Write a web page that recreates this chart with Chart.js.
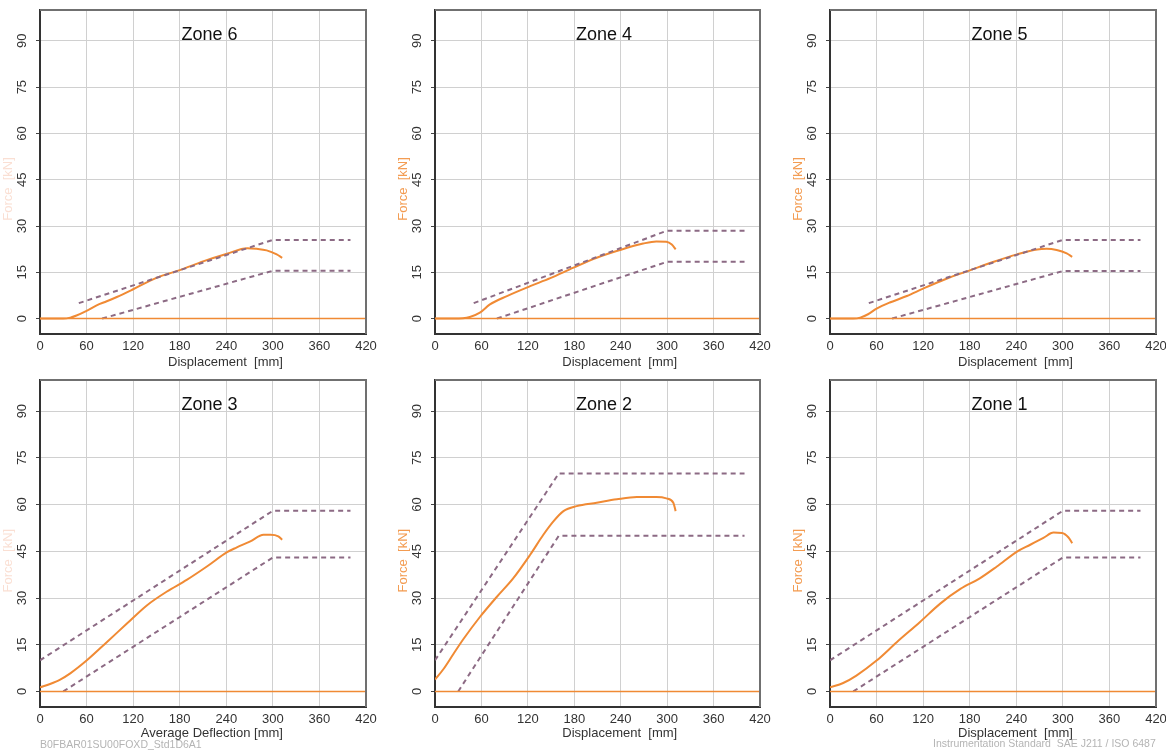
<!DOCTYPE html>
<html>
<head>
<meta charset="utf-8">
<script src="https://cdn.jsdelivr.net/npm/chart.js@4.4.0/dist/chart.umd.min.js"></script>
<style>
  html, body { margin: 0; padding: 0; background: #fff; overflow: hidden; }
  body { width: 1166px; height: 751px; position: relative; font-family: "Liberation Sans", Arial, sans-serif; }
  .panel { position: absolute; width: 390px; height: 376px; }
  .note { position: absolute; font-size: 10.5px; color: #b4b4b4; white-space: pre; line-height: 12px; }
</style>
</head>
<body>
<div class="panel" style="left:0;top:0"><canvas id="zone6" width="390" height="376"></canvas></div>
<div class="panel" style="left:390px;top:0"><canvas id="zone4" width="390" height="376"></canvas></div>
<div class="panel" style="left:780px;top:0"><canvas id="zone5" width="390" height="376"></canvas></div>
<div class="panel" style="left:0;top:375px"><canvas id="zone3" width="390" height="376"></canvas></div>
<div class="panel" style="left:390px;top:375px"><canvas id="zone2" width="390" height="376"></canvas></div>
<div class="panel" style="left:780px;top:375px"><canvas id="zone1" width="390" height="376"></canvas></div>
<div class="note" style="left:40px;top:738px">B0FBAR01SU00FOXD_Std1D6A1</div>
<div class="note" style="left:933px;top:737px">Instrumentation Standard  SAE J211 / ISO 6487</div>

<script>
// axis ticks
const xTicks = [0, 60, 120, 180, 240, 300, 360, 420];
const yTicks = [0, 15, 30, 45, 60, 75, 90];

// zero line
const zeroLineX = [0, 420];
const zeroLineY = [0, 0];

// Zone 6
const zone6CurveX = [0, 30, 39, 47, 60, 73, 86, 99, 120, 150, 180, 211, 241, 267, 279, 292, 305, 312];
const zone6CurveY = [0, 0, 0.3, 1.0, 2.5, 4.3, 5.6, 7.0, 9.5, 13.2, 15.7, 18.6, 21.0, 22.8, 22.6, 22.1, 20.8, 19.7];
const zone6UpperX = [50, 300, 400];
const zone6UpperY = [5, 25.5, 25.5];
const zone6LowerX = [80, 300, 400];
const zone6LowerY = [0, 15.5, 15.5];

// Zone 4
const zone4CurveX = [0, 25, 45, 58, 71, 93, 123, 149, 179, 209, 239, 269, 286, 299, 306, 311];
const zone4CurveY = [0, 0, 0.5, 1.9, 4.6, 7.3, 10.5, 13.1, 16.5, 19.7, 22.2, 24.3, 25.0, 24.9, 24.0, 22.4];
const zone4UpperX = [50, 300, 400];
const zone4UpperY = [5, 28.5, 28.5];
const zone4LowerX = [80, 300, 400];
const zone4LowerY = [0, 18.4, 18.4];

// Zone 5
const zone5CurveX = [0, 30, 39, 49, 60, 77, 99, 120, 150, 181, 211, 241, 267, 279, 292, 305, 312];
const zone5CurveY = [0, 0, 0.3, 1.4, 3.2, 5.2, 7.3, 9.7, 12.9, 15.7, 18.4, 20.8, 22.4, 22.6, 22.2, 21.1, 20.0];
const zone5UpperX = [50, 300, 400];
const zone5UpperY = [5, 25.5, 25.5];
const zone5LowerX = [80, 300, 400];
const zone5LowerY = [0, 15.4, 15.4];

// Zone 3
const zone3CurveX = [0, 13, 26, 39, 60, 86, 112, 138, 163, 189, 215, 241, 253, 271, 288, 297, 307, 312];
const zone3CurveY = [1.3, 2.4, 3.8, 5.8, 9.9, 15.8, 21.8, 27.7, 32.0, 35.8, 40.1, 44.7, 46.2, 48.2, 50.3, 50.3, 49.8, 48.7];
const zone3UpperX = [0, 300, 400];
const zone3UpperY = [10, 58, 58];
const zone3LowerX = [30, 300, 400];
const zone3LowerY = [0, 43, 43];

// Zone 2
const zone2CurveX = [0, 11, 24, 37, 58, 80, 101, 123, 140, 153, 166, 183, 209, 235, 261, 286, 299, 308, 311];
const zone2CurveY = [3.8, 7.2, 12.1, 16.9, 23.9, 30.4, 36.3, 43.9, 50.3, 54.6, 57.9, 59.5, 60.6, 61.7, 62.4, 62.4, 62.0, 60.6, 57.9];
const zone2UpperX = [0, 160, 400];
const zone2UpperY = [10, 70, 70];
const zone2LowerX = [30, 160, 400];
const zone2LowerY = [0, 50, 50];

// Zone 1
const zone1CurveX = [0, 17, 34, 60, 86, 116, 142, 168, 193, 215, 241, 258, 275, 288, 299, 307, 312];
const zone1CurveY = [1.3, 2.7, 5.1, 9.9, 15.8, 22.3, 28.2, 32.9, 36.3, 40.1, 44.9, 47.1, 49.3, 51.0, 50.9, 49.5, 47.6];
const zone1UpperX = [0, 300, 400];
const zone1UpperY = [10, 58, 58];
const zone1LowerX = [30, 300, 400];
const zone1LowerY = [0, 43, 43];

const FONT = '"Liberation Sans", Arial, sans-serif';
const ORANGE = "#f08a34";
const CORRIDOR = "#8c6a84";

function pts(xs, ys) {
  return xs.map((x, i) => ({ x: x, y: ys[i] }));
}

// frame (top/right) + titles drawn on top of the plot
const panelText = {
  id: "panelText",
  afterDraw(chart, args, opts) {
    const ctx = chart.ctx;
    const a = chart.chartArea;
    const x = chart.scales.x;
    const y = chart.scales.y;
    ctx.save();
    ctx.strokeStyle = "#707070";
    ctx.lineWidth = 2;
    ctx.beginPath();
    ctx.moveTo(a.left, a.top);
    ctx.lineTo(a.right, a.top);
    ctx.lineTo(a.right, a.bottom);
    ctx.stroke();

    ctx.fillStyle = "#111";
    ctx.font = "18px " + FONT;
    ctx.textAlign = "center";
    ctx.textBaseline = "middle";
    ctx.fillText(opts.zone, a.left + a.width * 0.52, y.getPixelForValue(92));

    ctx.font = "13px " + FONT;
    ctx.fillStyle = "#333";
    ctx.textAlign = "right";
    ctx.fillText(opts.xTitle, x.getPixelForValue(313), opts.xTitleY);

    ctx.translate(a.left - 32, y.getPixelForValue(42));
    ctx.rotate(-Math.PI / 2);
    ctx.textAlign = "center";
    ctx.fillStyle = opts.faint ? "rgba(240,150,110,0.3)" : "#f39c52";
    ctx.fillText("Force  [kN]", 0, 0);
    ctx.restore();
  },
};

function makeChart(id, zone, cfg, curveX, curveY, upX, upY, loX, loY) {
  const H = 376;
  new Chart(document.getElementById(id), {
    type: "line",
    data: {
      datasets: [
        { data: pts(zeroLineX, zeroLineY), borderColor: ORANGE, borderWidth: 1.6 },
        { data: pts(upX, upY), borderColor: CORRIDOR, borderWidth: 2, borderDash: [5, 4] },
        { data: pts(loX, loY), borderColor: CORRIDOR, borderWidth: 2, borderDash: [5, 4] },
        { data: pts(curveX, curveY), borderColor: ORANGE, borderWidth: 2, cubicInterpolationMode: "monotone" },
      ],
    },
    options: {
      responsive: false,
      animation: false,
      events: [],
      elements: { point: { radius: 0 }, line: { fill: false } },
      layout: { padding: { left: 0, top: cfg.plotTop, right: 390 - cfg.plotRight, bottom: 0 } },
      plugins: {
        legend: { display: false },
        tooltip: { enabled: false },
        panelText: { zone: zone, xTitle: cfg.xTitle, xTitleY: cfg.xTitleY, faint: cfg.faint },
      },
      scales: {
        x: {
          type: "linear",
          min: 0,
          max: 420,
          afterBuildTicks: (s) => { s.ticks = xTicks.map((v) => ({ value: v })); },
          afterFit: (s) => { s.height = H - cfg.plotBottom; s.paddingLeft = 0; s.paddingRight = 0; },
          ticks: { autoSkip: false, maxRotation: 0, padding: 5, color: "#333", font: { size: 13, family: FONT } },
          grid: { color: "#d0d0d0", lineWidth: 1, drawTicks: false },
          border: { color: "#333", width: 2 },
        },
        y: {
          type: "linear",
          min: -5,
          max: 100,
          afterBuildTicks: (s) => { s.ticks = yTicks.map((v) => ({ value: v })); },
          afterFit: (s) => { s.width = cfg.plotLeft; s.paddingTop = 0; s.paddingBottom = 0; },
          ticks: { minRotation: 90, maxRotation: 90, crossAlign: "center", padding: 6, color: "#333", font: { size: 13, family: FONT } },
          grid: { color: "#d0d0d0", lineWidth: 1, tickLength: 4, tickColor: "#444" },
          border: { color: "#333", width: 2 },
        },
      },
    },
    plugins: [panelText],
  });
}

const top1 = { plotTop: 10, plotBottom: 334, xTitleY: 362 };
const bot1 = { plotTop: 5, plotBottom: 332, xTitleY: 358 };

makeChart("zone6", "Zone 6", Object.assign({ plotLeft: 40, plotRight: 366, xTitle: "Displacement  [mm]", faint: true }, top1),
  zone6CurveX, zone6CurveY, zone6UpperX, zone6UpperY, zone6LowerX, zone6LowerY);
makeChart("zone4", "Zone 4", Object.assign({ plotLeft: 45, plotRight: 370, xTitle: "Displacement  [mm]" }, top1),
  zone4CurveX, zone4CurveY, zone4UpperX, zone4UpperY, zone4LowerX, zone4LowerY);
makeChart("zone5", "Zone 5", Object.assign({ plotLeft: 50, plotRight: 376, xTitle: "Displacement  [mm]" }, top1),
  zone5CurveX, zone5CurveY, zone5UpperX, zone5UpperY, zone5LowerX, zone5LowerY);
makeChart("zone3", "Zone 3", Object.assign({ plotLeft: 40, plotRight: 366, xTitle: "Average Deflection [mm]", faint: true }, bot1),
  zone3CurveX, zone3CurveY, zone3UpperX, zone3UpperY, zone3LowerX, zone3LowerY);
makeChart("zone2", "Zone 2", Object.assign({ plotLeft: 45, plotRight: 370, xTitle: "Displacement  [mm]" }, bot1),
  zone2CurveX, zone2CurveY, zone2UpperX, zone2UpperY, zone2LowerX, zone2LowerY);
makeChart("zone1", "Zone 1", Object.assign({ plotLeft: 50, plotRight: 376, xTitle: "Displacement  [mm]" }, bot1),
  zone1CurveX, zone1CurveY, zone1UpperX, zone1UpperY, zone1LowerX, zone1LowerY);
</script>
</body>
</html>
